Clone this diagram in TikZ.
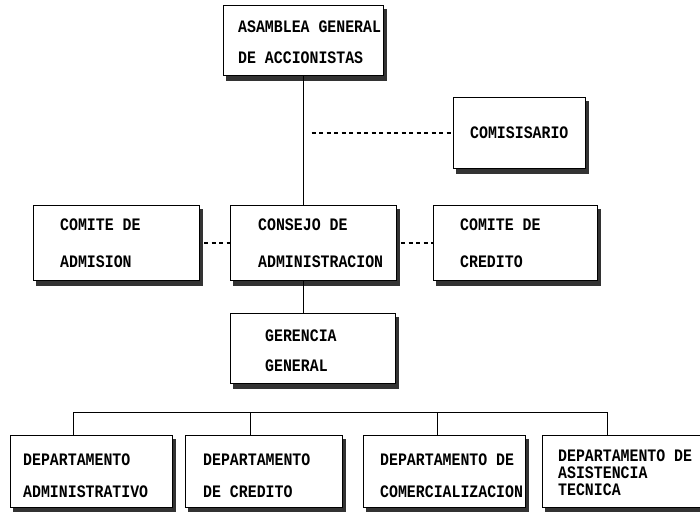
\documentclass[tikz,border=0pt]{standalone}
\usepackage{fontspec}
\newfontfamily\monofont[FakeStretch=0.85]{Liberation Mono}
\begin{document}
\begin{tikzpicture}[x=1pt,y=-1pt,
  orgbox/.style={draw=black, line width=1pt, anchor=north west, inner sep=0pt, fill=white},
  boxtext/.style={anchor=west, align=left, inner sep=0pt, font=\monofont\bfseries\fontsize{17.5}{31}\selectfont},
  link/.style={line width=1pt, draw=black},
  dashlink/.style={line width=1.1pt, draw=black, dash pattern=on 4pt off 3.5pt},
  shadowc/.style={fill=black!80}]
\useasboundingbox (0,0) rectangle (700,511);
\fill[white] (0,0) rectangle (700,511);

\newcommand{\orgshadow}[1]{%
  \fill[shadowc] ([xshift=3pt]#1.south west) rectangle ([xshift=3pt,yshift=-5pt]#1.south east);
  \fill[shadowc] ([yshift=-4pt]#1.north east) rectangle ([xshift=3pt,yshift=-5pt]#1.south east);}

% boxes
\node[orgbox, minimum width=160pt, minimum height=70pt] (asam) at (223,5) {};
\node[orgbox, minimum width=132pt, minimum height=71pt] (comis) at (453,97) {};
\node[orgbox, minimum width=166pt, minimum height=75pt] (adm) at (33,205) {};
\node[orgbox, minimum width=166pt, minimum height=75pt] (cons) at (230,205) {};
\node[orgbox, minimum width=164pt, minimum height=75pt] (cred) at (433,205) {};
\node[orgbox, minimum width=165pt, minimum height=70pt] (ger) at (230,313) {};
\node[orgbox, minimum width=162pt, minimum height=72pt] (d1) at (10,435) {};
\node[orgbox, minimum width=157pt, minimum height=72pt] (d2) at (185,435) {};
\node[orgbox, minimum width=162pt, minimum height=72pt] (d3) at (363,435) {};
\node[orgbox, minimum width=162pt, minimum height=72pt] (d4) at (542,435) {};

\foreach \b in {asam,comis,adm,cons,cred,ger,d1,d2,d3,d4} {\orgshadow{\b}}

% texts
\node[boxtext, yshift=-1.5pt] (tasam) at ([xshift=15pt]asam.west) {ASAMBLEA GENERAL\\DE ACCIONISTAS};
\node[boxtext] (tcomis) at ([xshift=17pt]comis.west) {COMISISARIO};
\node[boxtext, font=\monofont\bfseries\fontsize{17.5}{37}\selectfont] (tadm) at ([xshift=27pt]adm.west) {COMITE DE\\ADMISION};
\node[boxtext, font=\monofont\bfseries\fontsize{17.5}{37}\selectfont] (tcons) at ([xshift=28pt]cons.west) {CONSEJO DE\\ADMINISTRACION};
\node[boxtext, font=\monofont\bfseries\fontsize{17.5}{37}\selectfont] (tcred) at ([xshift=27pt]cred.west) {COMITE DE\\CREDITO};
\node[boxtext, font=\monofont\bfseries\fontsize{17.5}{30}\selectfont, yshift=-2pt] (tger) at ([xshift=35pt]ger.west) {GERENCIA\\GENERAL};
\node[boxtext, font=\monofont\bfseries\fontsize{17.5}{32}\selectfont, yshift=-4pt] (td1) at ([xshift=13pt]d1.west) {DEPARTAMENTO\\ADMINISTRATIVO};
\node[boxtext, font=\monofont\bfseries\fontsize{17.5}{32}\selectfont, yshift=-4pt] (td2) at ([xshift=18pt]d2.west) {DEPARTAMENTO\\DE CREDITO};
\node[boxtext, font=\monofont\bfseries\fontsize{17.5}{32}\selectfont, yshift=-4pt] (td3) at ([xshift=17pt]d3.west) {DEPARTAMENTO DE\\COMERCIALIZACION};
\node[boxtext, font=\monofont\bfseries\fontsize{17.5}{17}\selectfont, yshift=-1pt] (td4) at ([xshift=16pt]d4.west) {DEPARTAMENTO DE\\ASISTENCIA\\TECNICA};

% solid connectors
\draw[link] (asam.south) -- (asam.south |- cons.north);
\draw[link] (asam.south |- cons.south) -- (asam.south |- ger.north);

% dashed connectors
\draw[dashlink] ([xshift=8pt]asam.south |- comis.west) -- (comis.west);
\draw[dashlink] ([xshift=4pt]adm.east) -- (cons.west);
\draw[dashlink] ([xshift=4pt]cons.east) -- (cred.west);

% bus to departments
\coordinate (busL) at (73,412);
\coordinate (busR) at (607,412);
\coordinate (bus2) at (250,412);
\coordinate (bus3) at (437,412);
\draw[link] (busL |- d1.north) -- (busL) -- (busR) -- (busR |- d4.north);
\draw[link] (bus2) -- (bus2 |- d2.north);
\draw[link] (bus3) -- (bus3 |- d3.north);
\end{tikzpicture}
\end{document}
